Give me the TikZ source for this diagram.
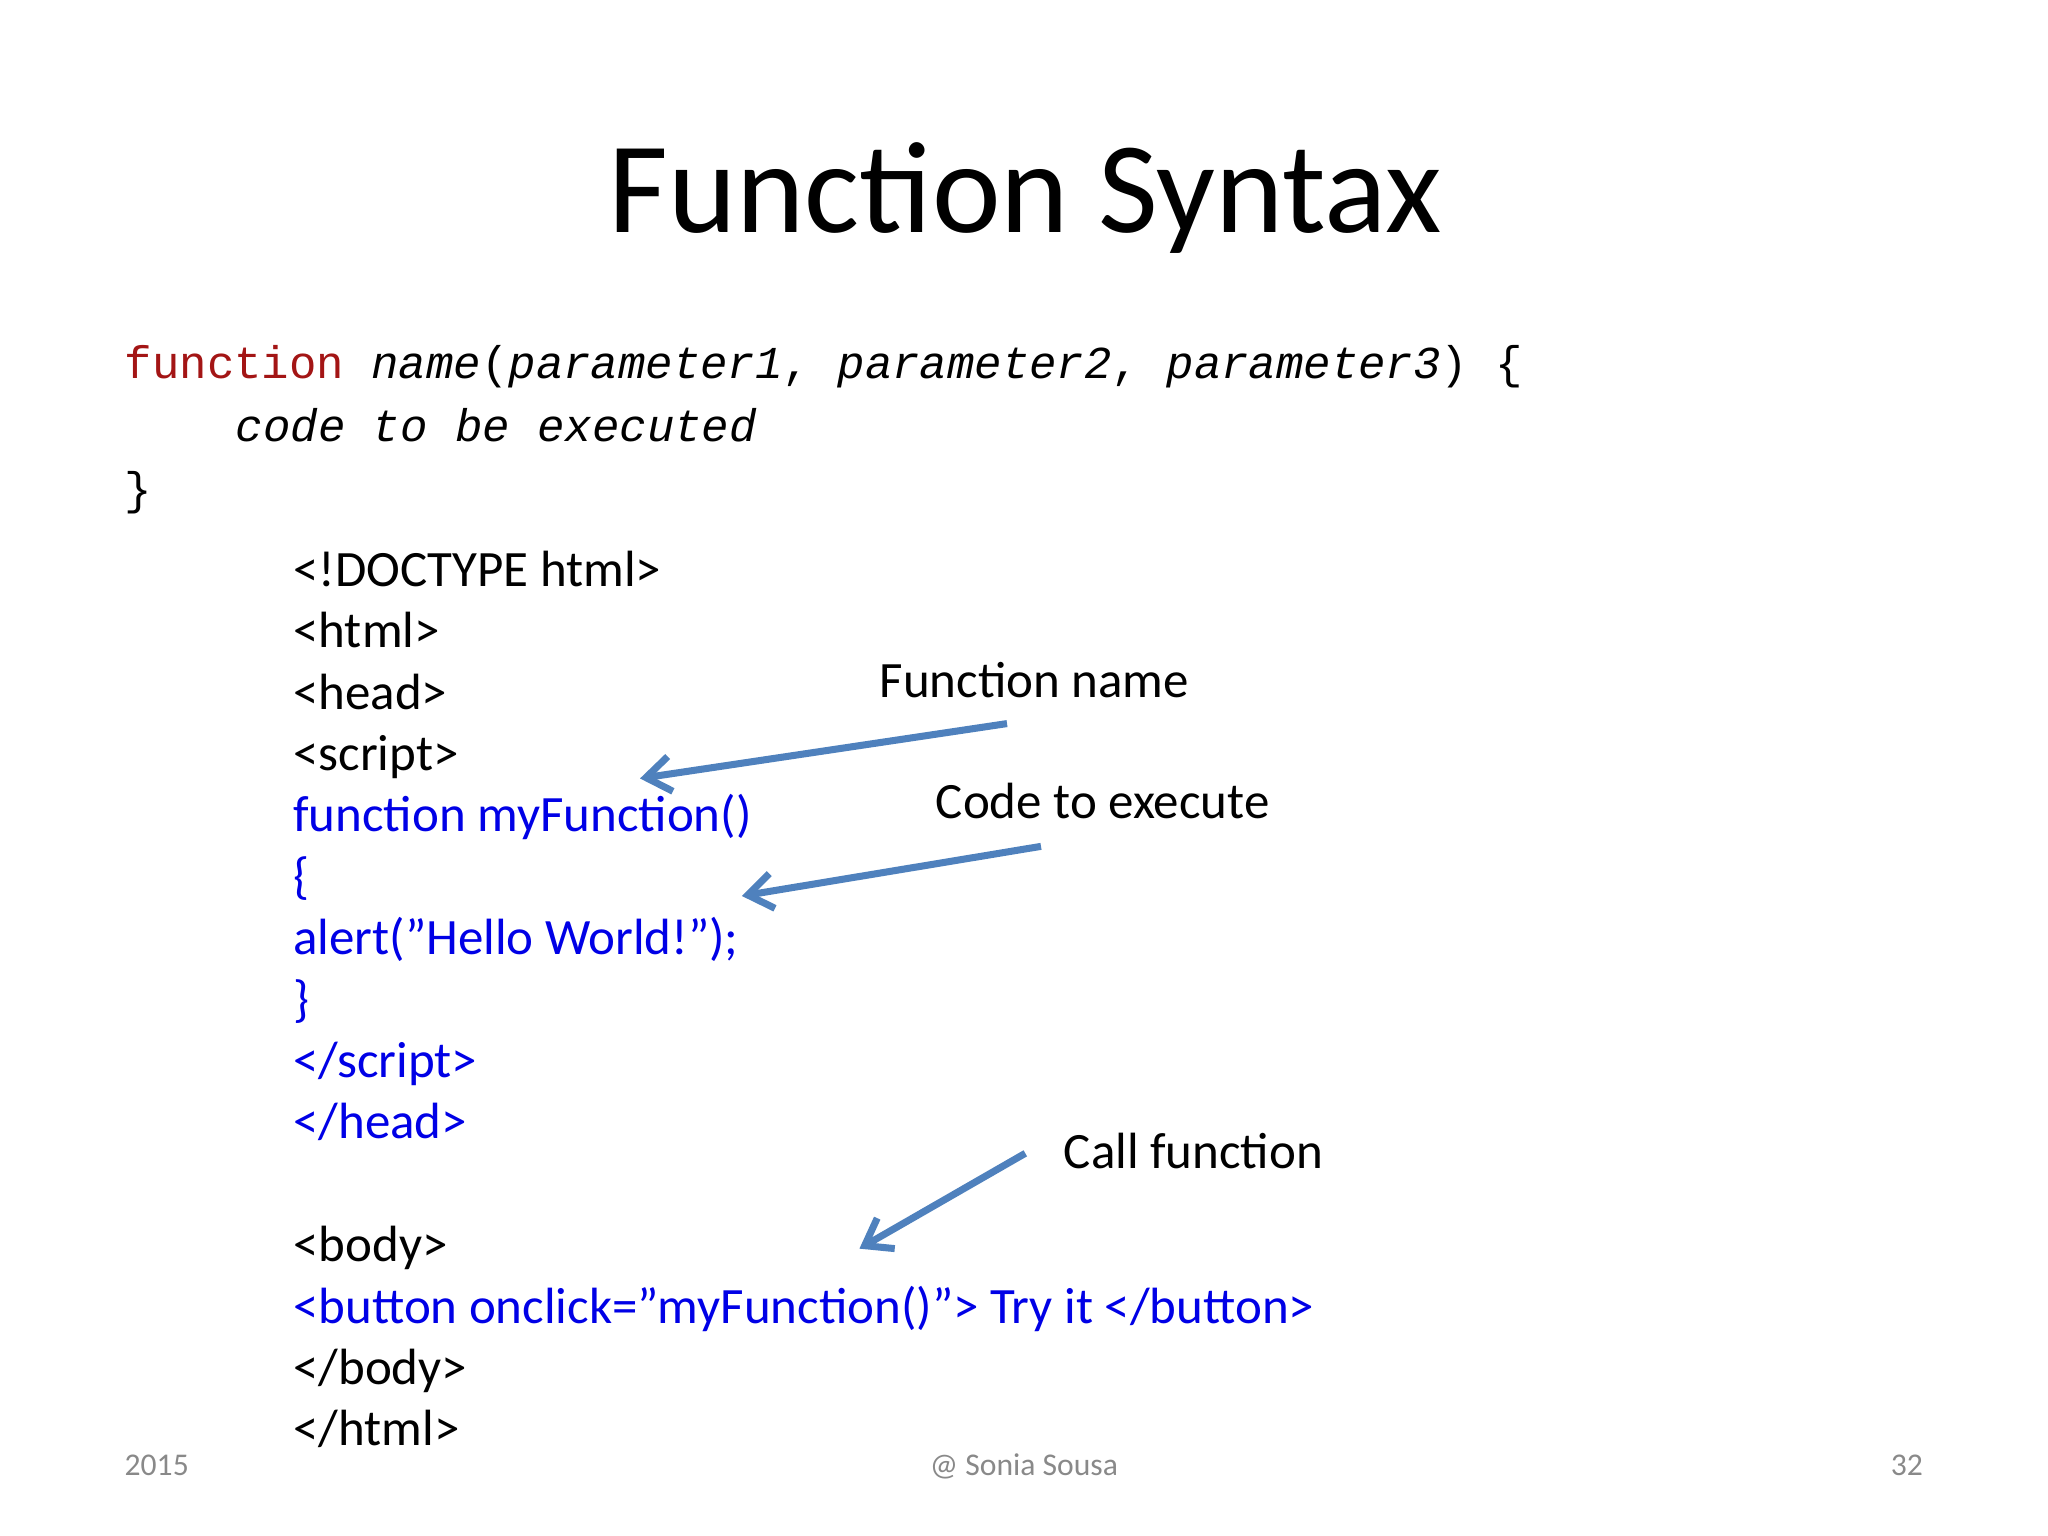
\documentclass[tikz,border=0pt]{standalone}
\usepackage{fontspec}
\setmainfont{Carlito}
\newfontfamily\codefont{Liberation Mono}
\usetikzlibrary{arrows.meta}
\definecolor{kw}{RGB}{163,21,21}
\definecolor{hb}{RGB}{0,0,230}
\definecolor{arr}{RGB}{79,129,189}
\definecolor{ft}{RGB}{137,137,137}
\begin{document}
\begin{tikzpicture}[x=0.013061cm,y=-0.013061cm,
  code/.style={anchor=base west,inner sep=0,font=\codefont\fontsize{13}{15}\selectfont},
  html/.style={anchor=base west,inner sep=0,font=\fontsize{14.5}{17}\selectfont},
  lab/.style={anchor=base west,inner sep=0,font=\fontsize{14.5}{17}\selectfont},
  foot/.style={anchor=base,inner sep=0,text=ft,font=\fontsize{9}{11}\selectfont},
  pointer/.style={draw=arr,line width=2pt,-{Straight Barb[length=7pt,width=10pt]}}]
\useasboundingbox (0,0) rectangle (1568,1176);
\node[anchor=base,inner sep=0,font=\fontsize{37}{44}\selectfont] (title) at (785,178) {Function Syntax};
\node[code] (c1) at (95,290) {\textcolor{kw}{function} \textit{name}(\textit{parameter1}, \textit{parameter2}, \textit{parameter3}) \{};
\node[code] (c2) at (180,338) {\textit{code to be executed}};
\node[code] (c3) at (95,386) {\}};
\node[html] (h1) at (224,449) {<!DOCTYPE html>};
\node[html] (h2) at (224,496) {<html>};
\node[html] (h3) at (224,543) {<head>};
\node[html] (h4) at (224,590) {<script>};
\node[html,text=hb] (h5) at (224,637) {function myFunction()};
\node[html,text=hb] (h6) at (224,684) {\{};
\node[html,text=hb] (h7) at (224,731) {alert("Hello World!");};
\node[html,text=hb] (h8) at (224,778) {\}};
\node[html,text=hb] (h9) at (224,825) {</script>};
\node[html,text=hb] (h10) at (224,872) {</head>};
\node[html] (h11) at (224,966) {<body>};
\node[html,text=hb] (h12) at (224,1013) {<button onclick="myFunction()”> Try it </button>};
\node[html] (h13) at (224,1060) {</body>};
\node[html] (h14) at (224,1107) {</html>};
\node[lab] (l1) at (673,534) {Function name};
\node[lab] (l2) at (716,627) {Code to execute};
\node[lab] (l3) at (814,895) {Call function};
\coordinate (a1s) at (771,554); \coordinate (a1e) at (490,596);
\coordinate (a2s) at (797,648); \coordinate (a2e) at (568,686);
\coordinate (a3s) at (785,883); \coordinate (a3e) at (658,956);
\draw[pointer] (a1s) -- (a1e);
\draw[pointer] (a2s) -- (a2e);
\draw[pointer] (a3s) -- (a3e);
\node[foot] (f1) at (120,1130) {2015};
\node[foot] (f2) at (784,1130) {@ Sonia Sousa};
\node[foot] (f3) at (1460,1130) {32};
\end{tikzpicture}
\end{document}
